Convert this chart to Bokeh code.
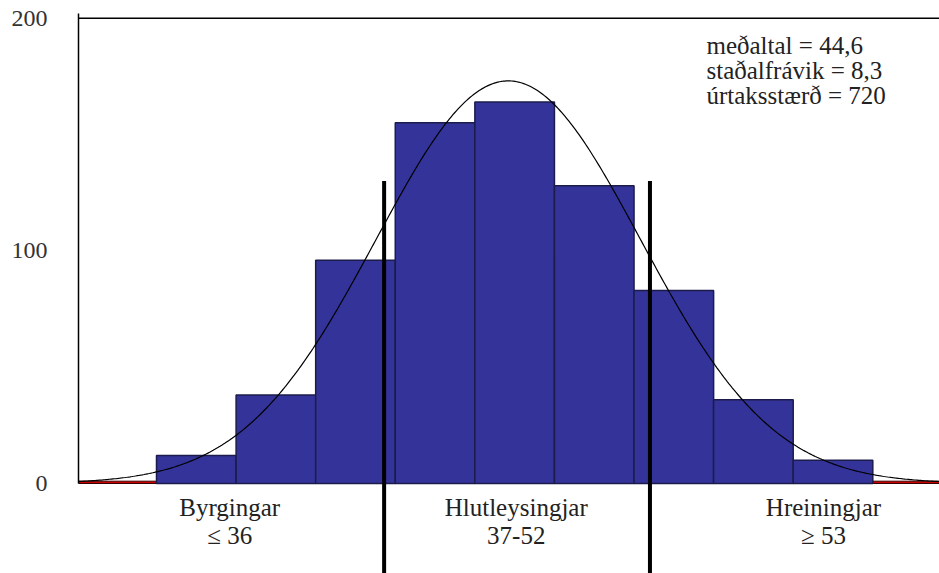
import numpy as np
from bokeh.plotting import figure
from bokeh.models import Label, FixedTicker, ColumnDataSource, Span
from bokeh.core.properties import value
from bokeh.embed import file_html
from bokeh.resources import INLINE

# ---- data ----
bin_left = [22.5, 27.5, 32.5, 37.5, 42.5, 47.5, 52.5, 57.5, 62.5]
bin_right = [27.5, 32.5, 37.5, 42.5, 47.5, 52.5, 57.5, 62.5, 67.5]
counts = [12, 38, 96, 155, 164, 128, 83, 36, 10]
mean_val = 44.6
sd_val = 8.3
n_total = 720
bin_width = 5.0
cut_points = [36.8, 53.5]
cut_line_top = 130
group_names = ["Byrgingar", "Hlutleysingjar", "Hreiningjar"]
group_ranges = ["\u2264 36", "37-52", "\u2265 53"]
group_centers = [27.1, 45.1, 64.4]
y_ticks = [0, 100, 200]
y_tick_labels = ["0", "100", "200"]
stats_lines = ["me\u00f0altal = 44,6", "sta\u00f0alfr\u00e1vik = 8,3", "\u00fartaksst\u00e6r\u00f0 = 720"]

FONT = "Liberation Serif"
x_start, x_end = 17.6, 71.69
y_start, y_end = -38.68, 202.0

p = figure(width=939, height=573, output_backend="svg", toolbar_location=None,
           x_range=(x_start, x_end), y_range=(y_start, y_end),
           x_axis_location=None, y_axis_location="left",
           min_border_left=78, min_border_right=0, min_border_top=13, min_border_bottom=0)
p.outline_line_color = None
p.xgrid.visible = False
p.ygrid.visible = False
p.background_fill_color = "white"
p.border_fill_color = "white"

ax = p.yaxis[0]
ax.bounds = (0, 202)
ax.ticker = FixedTicker(ticks=y_ticks)
ax.major_label_overrides = {v: t for v, t in zip(y_ticks, y_tick_labels)}
ax.axis_line_color = "black"
ax.axis_line_width = 1.5
ax.major_tick_line_color = None
ax.major_tick_in = 0
ax.major_tick_out = 0
ax.minor_tick_line_color = None
ax.major_label_standoff = 31
ax.major_label_text_font = FONT
ax.major_label_text_font_size = "24px"
ax.major_label_text_color = "#333333"

# top border line
p.add_layout(Span(location=200, dimension="width", line_color="black", line_width=1.5))

# empty tails (red)
p.quad(left=[x_start, bin_right[-1]], right=[bin_left[0], x_end], bottom=0, top=1.0,
       fill_color="#c80000", line_color="#3a0000", line_width=1)

# histogram bars
src = ColumnDataSource(dict(left=bin_left, right=bin_right, top=counts))
p.quad(left="left", right="right", bottom=0, top="top", source=src,
       fill_color="#333399", line_color="#1c1c4c", line_width=1.5)

# fitted normal curve
xs = np.linspace(x_start, x_end, 500)
ys = n_total * bin_width / (sd_val * np.sqrt(2 * np.pi)) * np.exp(-0.5 * ((xs - mean_val) / sd_val) ** 2)
p.line(xs, ys, line_color="black", line_width=1.2)

# cut lines
p.segment(x0=cut_points, y0=[y_start] * len(cut_points), x1=cut_points,
          y1=[cut_line_top] * len(cut_points), line_color="black", line_width=4)

# group labels
p.text(x=group_centers, y=[-10.4] * 3, text=group_names, text_align="center",
       text_baseline="alphabetic", text_font=value(FONT), text_font_size="25px",
       text_color="#222222")
p.text(x=group_centers, y=[-22.2] * 3, text=group_ranges, text_align="center",
       text_baseline="alphabetic", text_font=value(FONT), text_font_size="25px",
       text_color="#222222")

# stats
for i, s in enumerate(stats_lines):
    p.add_layout(Label(x=57.05, y=188.3 - i * 10.75, text=s, text_align="left",
                       text_baseline="alphabetic", text_font=FONT, text_font_size="25px",
                       text_color="#222222"))

open("out.html", "w").write(file_html(p, INLINE))
